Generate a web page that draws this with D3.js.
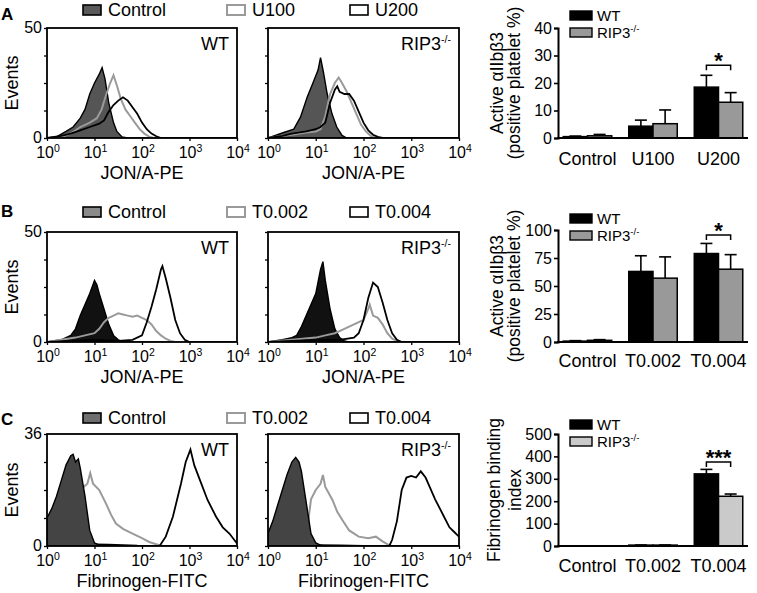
<!DOCTYPE html>
<html><head><meta charset="utf-8">
<script src="https://cdn.jsdelivr.net/npm/d3@7"></script>
<style>
body{margin:0;background:#fff}
svg{display:block}
text{font-family:"Liberation Sans",Arial,Helvetica,sans-serif;fill:#000}
</style>
</head><body>
<svg id="c" width="757" height="593"></svg>
<script>
// ---------------- DATA ----------------
const decadeTicks = [0, 1, 2, 3, 4];
const histLegendA = ["Control", "U100", "U200"];
const histLegendBC = ["Control", "T0.002", "T0.004"];
const barCatsA = ["Control", "U100", "U200"];
const barCatsBC = ["Control", "T0.002", "T0.004"];
const genotypes = ["WT", "RIP3"];

// histogram curves: [log10 fluorescence, events]
const aWtControl = [[0,0],[0.2,0.5],[0.4,3],[0.55,5],[0.7,9],[0.8,13],[0.9,20],[1.0,25],[1.1,29],[1.16,32],[1.22,27],[1.3,16],[1.4,7],[1.47,3],[1.58,0.5],[1.7,0],[4,0]];
const aWtLow = [[0,0],[0.3,0.5],[0.5,2],[0.7,5],[0.9,7],[1.05,9],[1.15,13],[1.25,20],[1.33,25],[1.4,28.5],[1.47,24],[1.55,18],[1.65,13],[1.75,10],[1.85,7],[1.95,4],[2.05,2],[2.15,0.6],[2.25,0],[4,0]];
const aWtHigh = [[0,0],[0.3,1],[0.5,2],[0.7,3.5],[0.9,5],[1.1,6.5],[1.2,8],[1.3,12],[1.4,15],[1.5,17],[1.6,18.5],[1.7,17],[1.8,14],[1.9,11],[2.0,7],[2.1,4],[2.2,2],[2.3,0.8],[2.4,0],[4,0]];
const aRipControl = [[0,0],[0.33,2.5],[0.54,4],[0.68,9.5],[0.82,18.5],[0.96,26],[1.05,31],[1.1,36.5],[1.16,30],[1.24,20],[1.34,11],[1.44,5],[1.55,1.2],[1.65,0],[4,0]];
const aRipLow = [[0,0],[0.3,1],[0.5,1.5],[0.8,2.5],[1.0,3],[1.1,4],[1.2,10],[1.3,20],[1.4,25],[1.48,27.5],[1.55,25],[1.65,21],[1.75,16],[1.85,11],[1.95,6],[2.05,3],[2.15,1],[2.25,0],[4,0]];
const aRipHigh = [[0,0],[0.3,1],[0.5,2],[0.8,3],[1.0,4],[1.1,5],[1.2,7],[1.3,16],[1.4,22],[1.45,23.5],[1.5,21],[1.6,20],[1.7,20],[1.8,17],[1.9,12],[2.0,7],[2.1,3.5],[2.2,1.5],[2.3,0.5],[2.4,0],[4,0]];

const bWtControl = [[0,0],[0.3,1],[0.5,3],[0.6,6],[0.7,12],[0.8,17],[0.9,22],[1.0,28],[1.05,26],[1.1,22],[1.2,15],[1.3,8],[1.4,3],[1.5,1],[1.6,0],[4,0]];
const bWtLow = [[0,0],[0.3,1],[0.6,2],[0.8,3],[1.0,4],[1.1,6],[1.2,9],[1.3,11],[1.4,12],[1.5,13],[1.6,12.5],[1.7,12],[1.8,11.5],[1.9,12],[2.0,11],[2.1,10],[2.2,8],[2.3,5],[2.4,3],[2.5,1.5],[2.6,0.5],[2.7,0],[4,0]];
const bWtHigh = [[0,0],[0.5,0.5],[1.0,1],[1.5,0.5],[1.8,1],[2.0,3],[2.1,9],[2.2,16],[2.3,24],[2.4,33],[2.43,34.5],[2.5,29],[2.6,20],[2.7,10],[2.8,4],[2.9,1],[3.0,0],[4,0]];
const bRipControl = [[0,0],[0.3,1],[0.5,2],[0.6,3],[0.7,7],[0.8,12],[0.9,17],[1.0,22],[1.1,33],[1.15,36.5],[1.2,28],[1.3,15],[1.4,6],[1.5,2],[1.6,0.5],[1.7,0],[4,0]];
const bRipLow = [[0,0],[0.5,1],[1.0,2],[1.2,3],[1.4,4],[1.6,6],[1.8,8],[2.0,10],[2.1,15],[2.13,17],[2.2,12],[2.3,11],[2.4,8],[2.5,4],[2.6,1.5],[2.7,0.5],[2.8,0],[4,0]];
const bRipHigh = [[0,0],[0.5,0.5],[1.0,1],[1.5,1],[1.8,2],[1.9,4],[2.0,10],[2.1,20],[2.2,27],[2.3,25],[2.4,18],[2.5,10],[2.6,4],[2.7,1],[2.8,0],[4,0]];

const cWtControl = [[0,9],[0.1,12],[0.2,16],[0.3,21],[0.4,26],[0.5,29],[0.55,29.5],[0.6,27],[0.66,28],[0.7,25],[0.8,16],[0.9,5],[1.0,1],[1.1,0.3],[1.2,0],[4,0]];
const cWtLow = [[0,0],[0.3,3],[0.5,9],[0.65,16],[0.77,19],[0.85,20],[0.91,23.4],[0.97,20],[1.1,18],[1.24,13.7],[1.35,10],[1.45,7.2],[1.6,5.5],[1.8,4],[2.0,2.5],[2.15,1.3],[2.38,0.2],[2.45,0],[4,0]];
const cWtHigh = [[0,0],[0.8,0.3],[1.0,0.5],[1.3,0.4],[1.6,0.3],[1.9,0.1],[2.37,0],[2.5,3],[2.65,9.4],[2.82,20],[2.92,27],[3.02,31],[3.1,26],[3.2,22],[3.38,14.8],[3.56,9.4],[3.7,6],[3.84,4],[4.0,0.8]];
const cRipControl = [[0,4],[0.1,8],[0.2,13],[0.3,18],[0.4,23],[0.5,27],[0.58,28.5],[0.65,27],[0.7,24],[0.8,14],[0.9,4],[1.0,1],[1.1,0.3],[1.2,0],[4,0]];
const cRipLow = [[0,0],[0.5,1],[0.8,2],[0.86,10],[0.9,15],[1.0,18],[1.1,20],[1.15,22.8],[1.2,19],[1.35,14.8],[1.45,11],[1.56,8.3],[1.7,5],[1.9,3],[2.1,2.5],[2.26,3],[2.4,1.5],[2.54,0.2],[2.6,0],[4,0]];
const cRipHigh = [[0,0],[1.0,0.3],[1.5,0.2],[2.0,0],[2.54,0],[2.6,2],[2.7,8],[2.8,18],[2.9,22],[3.0,22.5],[3.1,22],[3.2,24],[3.3,22],[3.4,18.5],[3.5,15],[3.6,12],[3.7,9],[3.8,6],[3.9,4.5],[4.0,3]];

// bar charts: means and SEM
const aWtMean = [0.5, 4.3, 18.5];
const aWtErr = [0.2, 2.2, 4.3];
const aRipMean = [0.8, 5.2, 13.0];
const aRipErr = [0.5, 5.0, 3.5];
const bWtMean = [0.8, 63, 79];
const bWtErr = [0.4, 14, 9];
const bRipMean = [1.5, 57, 65];
const bRipErr = [0.6, 19, 13];
const cWtMean = [0, 4, 322];
const cWtErr = [0, 0.5, 20];
const cRipMean = [0, 4, 222];
const cRipErr = [0, 0.5, 10];
const aYTicks = [0, 10, 20, 30, 40];
const bYTicks = [0, 25, 50, 75, 100];
const cYTicks = [0, 100, 200, 300, 400, 500];
const histYTicks50 = [0, 12.5, 25, 37.5, 50];
const histYTicks36 = [0, 9, 18, 27, 36];
const sigA = {cat: "U200", level: 26.5, label: "*"};
const sigB = {cat: "T0.004", level: 95.5, label: "*"};
const sigC = {cat: "T0.004", level: 375, label: "***"};

// ---------------- DRAWING ----------------
const svg = d3.select("#c");
const GRAY = "#9a9a9a";

function addSup(t, base, sup, supSize, raise) {
  t.append("tspan").text(base);
  t.append("tspan").attr("dy", -raise).attr("font-size", supSize).text(sup);
}

let clipN = 0;
function drawHist(cfg) {
  const x = d3.scaleLinear().domain([0, 4]).range([cfg.x0, cfg.x1]);
  const y = d3.scaleLinear().domain([0, cfg.ymax]).range([cfg.y1, cfg.y0]);
  const g = svg.append("g");
  const id = "clip" + (clipN++);
  g.append("clipPath").attr("id", id).append("rect")
    .attr("x", cfg.x0).attr("y", cfg.y0).attr("width", cfg.x1 - cfg.x0).attr("height", cfg.y1 - cfg.y0);
  const plot = g.append("g").attr("clip-path", `url(#${id})`);
  const area = d3.area().x(d => x(d[0])).y0(y(0)).y1(d => y(d[1]));
  const line = d3.line().x(d => x(d[0])).y(d => y(d[1]));
  const drawControl = () => plot.append("path").datum(cfg.control)
      .attr("d", area).attr("fill", cfg.fill).attr("stroke", "#000").attr("stroke-width", 1.4);
  if (!cfg.controlOnTop) drawControl();
  plot.append("path").datum(cfg.low).attr("d", line).attr("fill", "none")
    .attr("stroke", GRAY).attr("stroke-width", 2);
  plot.append("path").datum(cfg.high).attr("d", line).attr("fill", "none")
    .attr("stroke", "#000").attr("stroke-width", 1.8);
  if (cfg.controlOnTop) drawControl();

  // frame
  g.append("rect").attr("x", cfg.x0).attr("y", cfg.y0)
    .attr("width", cfg.x1 - cfg.x0).attr("height", cfg.y1 - cfg.y0)
    .attr("fill", "none").attr("stroke", "#000").attr("stroke-width", 1.8);

  // y axis
  const ya = g.append("g").attr("transform", `translate(${cfg.x0},0)`)
    .call(d3.axisLeft(y).tickValues(cfg.yTicks).tickSize(3).tickPadding(2)
      .tickFormat(d => (cfg.yLabels && (d === 0 || d === cfg.ymax)) ? d : ""));
  ya.select(".domain").remove();
  ya.selectAll("text").attr("font-size", 16).attr("font-family", null).attr("dy", "0.3em");
  ya.selectAll("line").attr("stroke-width", 1.3);

  // x axis ticks
  const xa = g.append("g").attr("transform", `translate(0,${cfg.y1})`)
    .call(d3.axisBottom(x).tickValues(decadeTicks).tickSize(3).tickFormat(""));
  xa.select(".domain").remove();
  xa.selectAll("line").attr("stroke-width", 1.3);
  decadeTicks.forEach(d => {
    const t = g.append("text").attr("x", x(d) + 1).attr("y", cfg.y1 + 20)
      .attr("text-anchor", "middle").attr("font-size", 16);
    addSup(t, "10", String(d), 10.5, 6);
  });
  g.append("text").attr("x", (cfg.x0 + cfg.x1) / 2).attr("y", cfg.y1 + 41)
    .attr("text-anchor", "middle").attr("font-size", 18).text(cfg.xTitle);

  // genotype tag
  const tag = g.append("text").attr("x", cfg.x1 - 8).attr("y", cfg.y0 + 22)
    .attr("text-anchor", "end").attr("font-size", 18);
  if (cfg.tag === "WT") tag.text("WT"); else addSup(tag, "RIP3", "-/-", 10.5, 7);
}

function drawHistLegend(labels, yBase, fill) {
  const boxes = [83, 227, 350];
  labels.forEach((lab, i) => {
    svg.append("rect").attr("x", boxes[i]).attr("y", yBase - 10).attr("width", 18).attr("height", 10)
      .attr("fill", i === 0 ? fill : "#fff")
      .attr("stroke", i === 1 ? GRAY : "#000").attr("stroke-width", i === 1 ? 2 : 1.6);
    svg.append("text").attr("x", boxes[i] + 25).attr("y", yBase + 1)
      .attr("font-size", 18).text(lab);
  });
}

function drawBars(cfg) {
  const g = svg.append("g");
  const x0 = d3.scaleBand().domain(cfg.cats).range([558, 748]).paddingInner(0.26).paddingOuter(0.08);
  const x1 = d3.scaleBand().domain(genotypes).range([0, x0.bandwidth()]);
  const y = d3.scaleLinear().domain([0, cfg.ymax]).range([cfg.yb, cfg.yt]);
  const series = [
    {key: "WT", mean: cfg.wtMean, err: cfg.wtErr, fill: "#000"},
    {key: "RIP3", mean: cfg.ripMean, err: cfg.ripErr, fill: cfg.ripFill}
  ];
  series.forEach(s => {
    cfg.cats.forEach((c, i) => {
      const bx = x0(c) + x1(s.key);
      const cx = bx + x1.bandwidth() / 2;
      if (s.err[i] > 0) {
        g.append("line").attr("x1", cx).attr("x2", cx)
          .attr("y1", y(s.mean[i])).attr("y2", y(s.mean[i] + s.err[i]))
          .attr("stroke", "#000").attr("stroke-width", 1.6);
        g.append("line").attr("x1", cx - 6).attr("x2", cx + 6)
          .attr("y1", y(s.mean[i] + s.err[i])).attr("y2", y(s.mean[i] + s.err[i]))
          .attr("stroke", "#000").attr("stroke-width", 1.6);
      }
      if (s.mean[i] > 0) {
        g.append("rect").attr("x", bx).attr("y", y(s.mean[i]))
          .attr("width", x1.bandwidth()).attr("height", y(0) - y(s.mean[i]))
          .attr("fill", s.fill).attr("stroke", "#000").attr("stroke-width", 1.5);
      }
    });
  });
  // axes
  const ya = g.append("g").attr("transform", "translate(558,0)")
    .call(d3.axisLeft(y).tickValues(cfg.ticks).tickSize(4).tickPadding(2));
  ya.select(".domain").attr("stroke-width", 2);
  ya.selectAll("line").attr("stroke-width", 1.6);
  ya.selectAll("text").attr("font-size", 16).attr("font-family", null);
  g.append("line").attr("x1", 557).attr("x2", 748).attr("y1", y(0)).attr("y2", y(0))
    .attr("stroke", "#000").attr("stroke-width", 2);
  cfg.cats.forEach(c => {
    g.append("text").attr("x", x0(c) + x0.bandwidth() / 2).attr("y", cfg.labelY)
      .attr("text-anchor", "middle").attr("font-size", 18).text(c);
  });
  // y title
  const cy = (cfg.yt + cfg.yb) / 2;
  cfg.title.forEach((line, i) => {
    g.append("text").attr("transform", `translate(${cfg.titleX[i]},${cy}) rotate(-90)`)
      .attr("text-anchor", "middle").attr("font-size", 17.5).text(line);
  });
  // legend
  const legY = cfg.legY;
  series.forEach((s, i) => {
    g.append("rect").attr("x", 570).attr("y", legY[i]).attr("width", 22).attr("height", 9)
      .attr("fill", s.fill).attr("stroke", "#000").attr("stroke-width", 1.4);
    const t = g.append("text").attr("x", 597).attr("y", legY[i] + 9.5).attr("font-size", 15);
    if (s.key === "WT") t.text("WT"); else addSup(t, "RIP3", "-/-", 9.5, 5.5);
  });
  // significance
  const sig = cfg.sig;
  const xa = x0(sig.cat) + x1("WT") + x1.bandwidth() / 2;
  const xb = x0(sig.cat) + x1("RIP3") + x1.bandwidth() / 2;
  const ys = y(sig.level);
  g.append("path").attr("d", `M${xa},${ys + 5}V${ys}H${xb}V${ys + 5}`)
    .attr("fill", "none").attr("stroke", "#000").attr("stroke-width", 1.5);
  g.append("text").attr("x", (xa + xb) / 2).attr("y", ys + 3).attr("text-anchor", "middle")
    .attr("font-size", 22).attr("font-weight", "bold").text(sig.label);
}

function panelLetter(l, y) {
  svg.append("text").attr("x", 1).attr("y", y).attr("font-size", 17).attr("font-weight", "bold").text(l);
}
function eventsLabel(cy) {
  svg.append("text").attr("transform", `translate(18,${cy}) rotate(-90)`)
    .attr("text-anchor", "middle").attr("font-size", 18).text("Events");
}

// ---- Panel A ----
panelLetter("A", 20);
drawHistLegend(histLegendA, 15, "#5a5a5a");
eventsLabel(83);
drawHist({x0: 47, x1: 237, y0: 28, y1: 138, ymax: 50, yTicks: histYTicks50, yLabels: true,
  control: aWtControl, low: aWtLow, high: aWtHigh, fill: "#555", tag: "WT", xTitle: "JON/A-PE"});
drawHist({x0: 268, x1: 459, y0: 28, y1: 138, ymax: 50, yTicks: histYTicks50, yLabels: false,
  control: aRipControl, low: aRipLow, high: aRipHigh, fill: "#555", tag: "RIP3", xTitle: "JON/A-PE"});
drawBars({cats: barCatsA, ymax: 40, ticks: aYTicks, yt: 28, yb: 138, labelY: 165,
  wtMean: aWtMean, wtErr: aWtErr, ripMean: aRipMean, ripErr: aRipErr, ripFill: "#999",
  title: ["Active \u03b1IIb\u03b23", "(positive platelet %)"], titleX: [503, 520],
  legY: [11, 28], sig: sigA});

// ---- Panel B ----
panelLetter("B", 217);
drawHistLegend(histLegendBC, 217, "#8a8a8a");
eventsLabel(287);
drawHist({x0: 47, x1: 237, y0: 232, y1: 342, ymax: 50, yTicks: histYTicks50, yLabels: true,
  control: bWtControl, low: bWtLow, high: bWtHigh, fill: "#111", tag: "WT", xTitle: "JON/A-PE"});
drawHist({x0: 268, x1: 459, y0: 232, y1: 342, ymax: 50, yTicks: histYTicks50, yLabels: false,
  control: bRipControl, low: bRipLow, high: bRipHigh, fill: "#111", tag: "RIP3", xTitle: "JON/A-PE"});
drawBars({cats: barCatsBC, ymax: 100, ticks: bYTicks, yt: 230, yb: 342, labelY: 367,
  wtMean: bWtMean, wtErr: bWtErr, ripMean: bRipMean, ripErr: bRipErr, ripFill: "#999",
  title: ["Active \u03b1IIb\u03b23", "(positive platelet %)"], titleX: [503, 520],
  legY: [214, 231], sig: sigB});

// ---- Panel C ----
panelLetter("C", 425);
drawHistLegend(histLegendBC, 423, "#6e6e6e");
eventsLabel(490);
drawHist({x0: 47, x1: 237, y0: 434, y1: 546, ymax: 36, yTicks: histYTicks36, yLabels: true,
  control: cWtControl, low: cWtLow, high: cWtHigh, fill: "#444", tag: "WT", xTitle: "Fibrinogen-FITC", controlOnTop: true});
drawHist({x0: 268, x1: 459, y0: 434, y1: 546, ymax: 36, yTicks: histYTicks36, yLabels: false,
  control: cRipControl, low: cRipLow, high: cRipHigh, fill: "#444", tag: "RIP3", xTitle: "Fibrinogen-FITC", controlOnTop: true});
drawBars({cats: barCatsBC, ymax: 500, ticks: cYTicks, yt: 434, yb: 546, labelY: 572,
  wtMean: cWtMean, wtErr: cWtErr, ripMean: cRipMean, ripErr: cRipErr, ripFill: "#cacaca",
  title: ["Fibrinogen binding", "index"], titleX: [500, 521],
  legY: [420, 437], sig: sigC});
</script>
</body></html>
